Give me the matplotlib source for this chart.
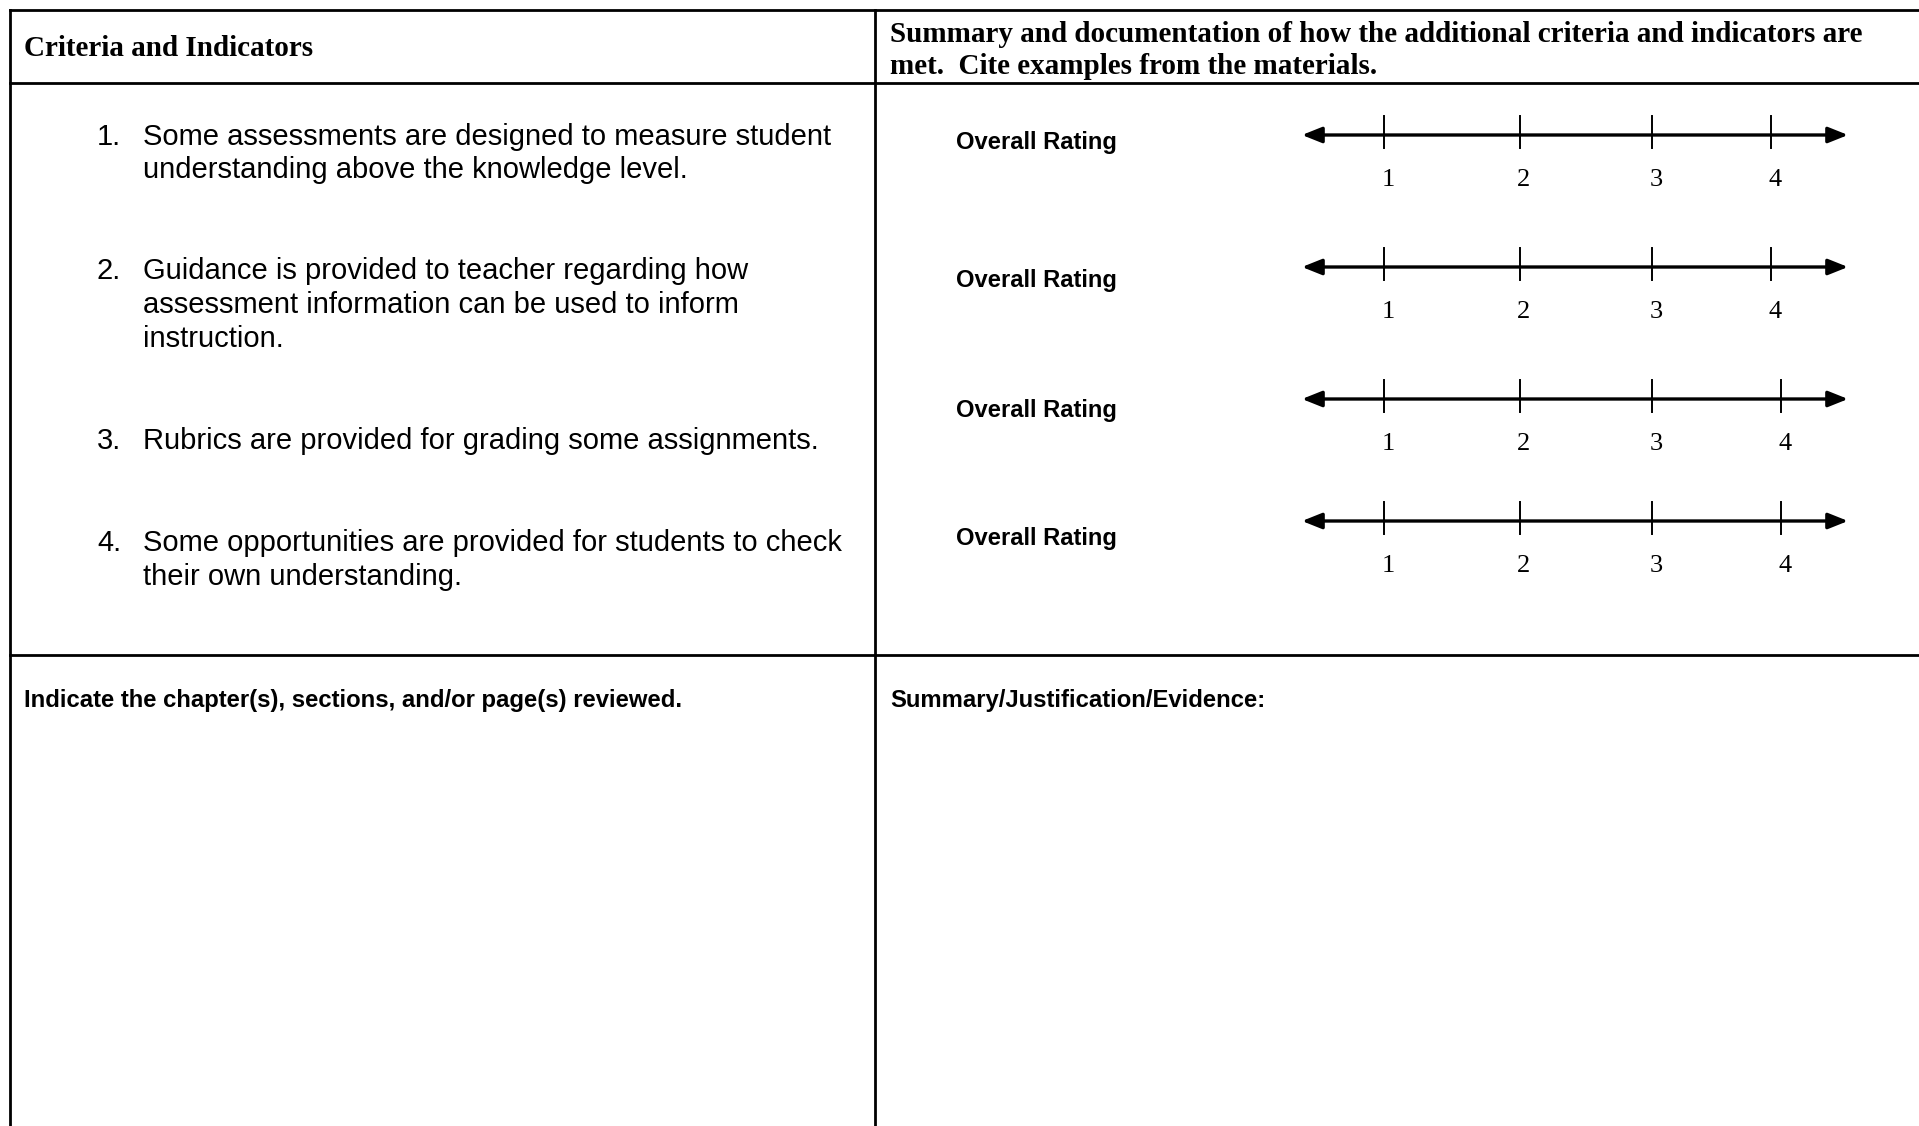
"""
plot.py

Redraws the review form: criteria list on the left, one 1-4
rating line per criterion on the right, and two empty boxes below.
"""

import matplotlib
matplotlib.use('Agg')
import matplotlib.pyplot as plt

# Form content
header_left = 'Criteria and Indicators'
header_right = ['Summary and documentation of how the additional criteria and indicators are',
                'met.  Cite examples from the materials.']
criteria = [
    ['Some assessments are designed to measure student',
     'understanding above the knowledge level.'],
    ['Guidance is provided to teacher regarding how',
     'assessment information can be used to inform',
     'instruction.'],
    ['Rubrics are provided for grading some assignments.'],
    ['Some opportunities are provided for students to check',
     'their own understanding.'],
]
rating_label = 'Overall Rating'
rating_values = [1, 2, 3, 4]
bottom_left = 'Indicate the chapter(s), sections, and/or page(s) reviewed.'
bottom_right = 'Summary/Justification/Evidence:'

# Layout (pixel coordinates, y down)
W, H = 1919, 1126
x_left, x_mid = 10, 875
y_top, y_head, y_mid = 10, 83, 655
crit_line_y = [[137, 170], [271, 305, 339], [441], [543, 577]]
rating_y = [135, 267, 399, 521]
label_dy = 45
rating_row_y = [143, 280, 410, 538]
tick_x = [[1384, 1520, 1652, 1771], [1384, 1520, 1652, 1771],
          [1384, 1520, 1652, 1781], [1384, 1520, 1652, 1781]]
arrow_x = (1302, 1848)

serif = 'Liberation Serif'
sans = 'Liberation Sans'

fig = plt.figure(figsize=(W / 100, H / 100), dpi=100)
ax = fig.add_axes([0, 0, 1, 1])
ax.set_xlim(0, W)
ax.set_ylim(H, 0)
ax.axis('off')

lw = 2.0
# table borders
ax.plot([x_left, W], [y_top, y_top], color='black', lw=lw)
ax.plot([x_left, W], [y_head, y_head], color='black', lw=lw)
ax.plot([x_left, W], [y_mid, y_mid], color='black', lw=lw)
ax.plot([x_left, x_left], [y_top, H], color='black', lw=lw)
ax.plot([x_mid, x_mid], [y_top, H], color='black', lw=lw)

# header
ax.text(24, 48, header_left, family=serif, weight='bold', fontsize=21, va='center')
for line, y in zip(header_right, [34, 66]):
    ax.text(890, y, line, family=serif, weight='bold', fontsize=21, va='center')

# criteria list
for i, (lines, ys) in enumerate(zip(criteria, crit_line_y)):
    ax.text(97, ys[0], f'{i + 1}.', family=sans, fontsize=21, va='center')
    for line, y in zip(lines, ys):
        ax.text(143, y, line, family=sans, fontsize=21, va='center')

# rating lines
for y, ry, ticks in zip(rating_y, rating_row_y, tick_x):
    ax.text(956, ry, rating_label, family=sans, weight='bold', fontsize=17.1, va='center')
    ax.annotate('', xy=(arrow_x[1], y), xytext=(arrow_x[0], y),
                arrowprops=dict(arrowstyle='<|-|>,head_length=0.75,head_width=0.3',
                                mutation_scale=16, lw=2.4, color='black',
                                shrinkA=0, shrinkB=0))
    for tx, val in zip(ticks, rating_values):
        ax.plot([tx, tx], [y - 19, y + 13], color='black', lw=1.4)
        ax.text(tx + 4, y + label_dy, str(val), family=serif, fontsize=19,
                ha='center', va='center')

# bottom boxes
ax.text(24, 701, bottom_left, family=sans, weight='bold', fontsize=17.2, va='center')
ax.text(890, 701, bottom_right, family=sans, weight='bold', fontsize=17.2, va='center')

fig.savefig('out.png', dpi=100)
